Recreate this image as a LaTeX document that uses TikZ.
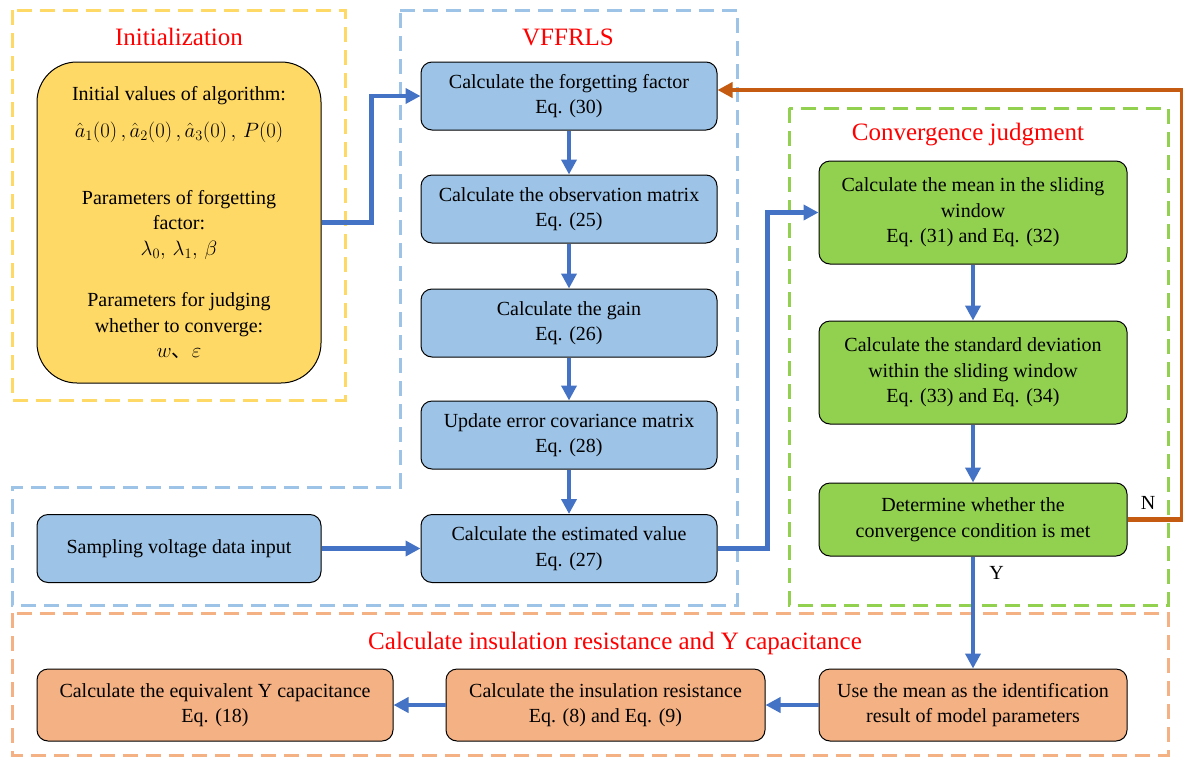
\documentclass[tikz,border=0pt]{standalone}
\usepackage{fontspec}
\usepackage{amsmath}
\setmainfont{Liberation Serif}
\newfontfamily\cjk{Noto Sans CJK SC}
\usetikzlibrary{arrows.meta}
\definecolor{boxblue}{HTML}{9DC3E6}
\definecolor{boxgreen}{HTML}{92D050}
\definecolor{boxorange}{HTML}{F4B183}
\definecolor{boxyellow}{HTML}{FFD966}
\definecolor{flowblue}{HTML}{4472C4}
\definecolor{backred}{HTML}{C55A11}

\begin{document}
\begin{tikzpicture}[x=1pt,y=-1pt,
  every node/.style={font=\fontsize{20}{25.5}\selectfont,align=center,inner sep=0pt},
  stepbox/.style={draw=black,line width=1pt,rounded corners=11pt,minimum height=#1},
  stepbox/.default=68pt,
  area/.style={line width=3pt,dash pattern=on 15pt off 8pt},
  title/.style={text=red,font=\fontsize{25}{28}\selectfont},
  flow/.style={draw=flowblue,line width=4.5pt,-{Triangle[length=15pt,width=15pt]}}]
\useasboundingbox (0,0) rectangle (1183,758);
% dashed areas
\draw[area,draw=boxyellow] (12,10) rectangle (345,400);
\draw[area,draw=boxblue] (400,10) -- (737,10) -- (737,605) -- (12,605) -- (12,487) -- (400,487) -- cycle;
\draw[area,draw=boxgreen] (789,108) rectangle (1168,605);
\draw[area,draw=boxorange] (12,613) rectangle (1168,755);
\node[title] (tinit) at (179,37) {Initialization};
\node[title] (tvff) at (568,37) {VFFRLS};
\node[title] (tconv) at (968,135) {Convergence judgment};
\node[title] (tcalc) at (615,643) {Calculate insulation resistance and Y capacitance};
% initialization
\node[stepbox=321pt,fill=boxyellow,minimum width=284pt,rounded corners=40pt] (init) at (179,222.5)
  {Initial values of algorithm:\\[12pt]
   $\hat{a}_1(0)\,,\hat{a}_2(0)\,,\hat{a}_3(0)\,,\,P(0)$\\[41pt]
   Parameters of forgetting\\ factor:\\ $\lambda_0,\,\lambda_1,\,\beta$\\[26pt]
   Parameters for judging\\ whether to converge:\\ $w${\cjk 、}$\varepsilon$};
\node[stepbox,fill=boxblue,minimum width=284pt] (samp) at (179,548.5) {Sampling voltage data input};
% VFFRLS
\node[stepbox,fill=boxblue,minimum width=296pt] (ff) at (569,96) {Calculate the forgetting factor\\Eq. (30)};
\node[stepbox,fill=boxblue,minimum width=296pt] (obs) at (569,209) {Calculate the observation matrix\\Eq. (25)};
\node[stepbox,fill=boxblue,minimum width=296pt] (gain) at (569,323) {Calculate the gain\\Eq. (26)};
\node[stepbox,fill=boxblue,minimum width=296pt] (cov) at (569,435) {Update error covariance matrix\\Eq. (28)};
\node[stepbox,fill=boxblue,minimum width=296pt] (est) at (569,548.5) {Calculate the estimated value\\Eq. (27)};
% convergence
\node[stepbox=103pt,fill=boxgreen,minimum width=308pt] (mean) at (973,212.5) {Calculate the mean in the sliding\\window\\Eq. (31) and Eq. (32)};
\node[stepbox=103pt,fill=boxgreen,minimum width=308pt] (std) at (973,372.5) {Calculate the standard deviation\\within the sliding window\\Eq. (33) and Eq. (34)};
\node[stepbox=73pt,fill=boxgreen,minimum width=308pt] (judge) at (973,519.5) {Determine whether the\\convergence condition is met};
% results
\node[stepbox=72pt,fill=boxorange,minimum width=308pt] (use) at (973,705) {Use the mean as the identification\\result of model parameters};
\node[stepbox=72pt,fill=boxorange,minimum width=319pt] (res) at (605.5,705) {Calculate the insulation resistance\\Eq. (8) and Eq. (9)};
\node[stepbox=72pt,fill=boxorange,minimum width=356pt] (cap) at (215,705) {Calculate the equivalent Y capacitance\\Eq. (18)};
% connectors
\draw[flow] (init.east) -- ++(50,0) |- (ff.west);
\draw[flow] (ff) -- (obs);
\draw[flow] (obs) -- (gain);
\draw[flow] (gain) -- (cov);
\draw[flow] (cov) -- (est);
\draw[flow] (samp) -- (est);
\draw[flow] (est.east) -- ++(50,0) |- (mean.west);
\draw[flow] (mean) -- (std);
\draw[flow] (std) -- (judge);
\draw[flow] (judge) -- node[right=14pt,pos=0.15] (ylab) {Y} (use);
\draw[flow] (use) -- (res);
\draw[flow] (res) -- (cap);
\draw[flow,draw=backred] (judge.east) -- ++(55,0) coordinate (nturn) |- ([yshift=6pt]ff.east);
\node (nlab) at (1148,503) {N};
\end{tikzpicture}
\end{document}
